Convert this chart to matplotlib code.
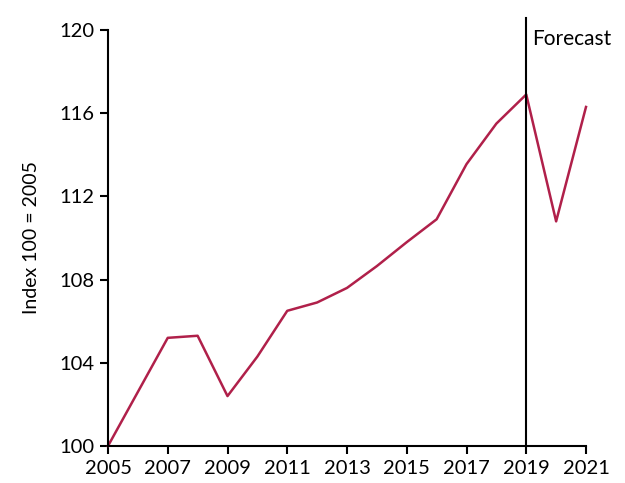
import numpy as np
import matplotlib
matplotlib.use('Agg')
import matplotlib.pyplot as plt

# index values, 100 = 2005
years = [2005, 2006, 2007, 2008, 2009, 2010, 2011, 2012, 2013,
         2014, 2015, 2016, 2017, 2018, 2019, 2020, 2021]
index = [100.0, 102.6, 105.2, 105.3, 102.4, 104.3, 106.5, 106.9, 107.6,
         108.65, 109.8, 110.9, 113.55, 115.5, 116.9, 110.8, 116.3]
forecast_start = 2019

plt.rcParams['font.family'] = ['Lato', 'DejaVu Sans']

fig = plt.figure(figsize=(6.25, 4.83), dpi=100)
ax = fig.add_axes([108 / 625, 1 - 446 / 483, 478 / 625, 416 / 483])

ax.plot(years, index, color='#B0204A', linewidth=1.8, clip_on=False)
ax.axvline(forecast_start, ymin=0, ymax=1.029, color='black', linewidth=1.5, clip_on=False)
ax.text(forecast_start + 0.2, 119.55, 'Forecast', fontsize=15, va='center', ha='left')

ax.set_xlim(2005, 2021)
ax.set_ylim(100, 120)
ax.set_xticks(range(2005, 2022, 2))
ax.set_yticks(range(100, 121, 4))
ax.set_ylabel('Index 100 = 2005', fontsize=14, labelpad=14)

for s in ['top', 'right']:
    ax.spines[s].set_visible(False)
for s in ['left', 'bottom']:
    ax.spines[s].set_linewidth(1.5)
ax.tick_params(direction='out', length=6, width=1.5, labelsize=14.5, pad=4)

fig.savefig('out.png', dpi=100)
